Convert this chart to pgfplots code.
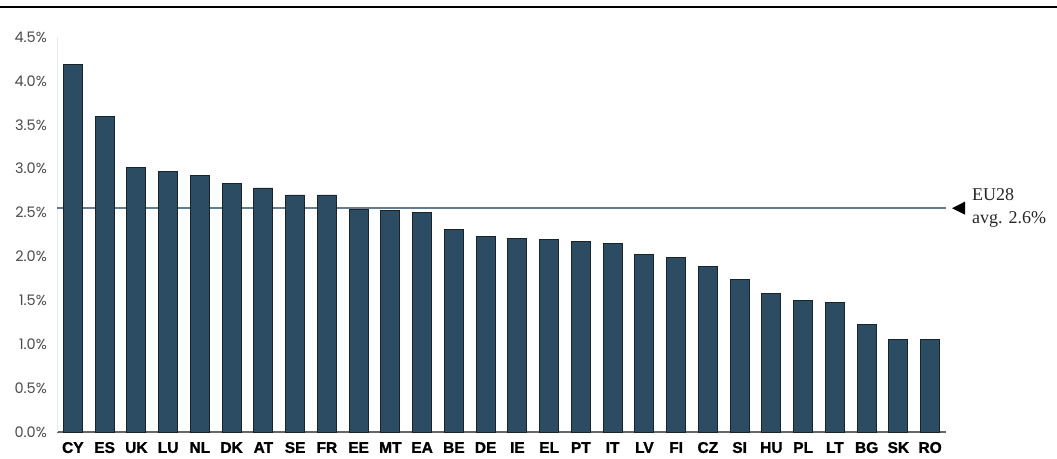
\documentclass[border=0pt]{standalone}
\usepackage{fontspec}
\setmainfont{Liberation Serif}
\newfontfamily\poppins{Poppins}
\newfontfamily\lsansblack[FakeBold=1.2]{Liberation Sans Bold}
\usepackage{pgfplots}
\pgfplotsset{compat=1.18}
\definecolor{barfill}{RGB}{44,76,99}
\definecolor{baredge}{RGB}{25,35,40}
\definecolor{avgline}{RGB}{96,125,146}
\definecolor{ylab}{RGB}{75,75,75}
\begin{document}
\begin{tikzpicture}[x=1pt,y=1pt]
\useasboundingbox (0,0) rectangle (1057,458);
\draw[line width=2.6pt,black] (0,451) -- (1057,451);
\begin{axis}[
  at={(57pt,26pt)}, anchor=south west,
  width=889pt, height=395pt, scale only axis,
  xmin=-0.5, xmax=27.5, ymin=0, ymax=4.5,
  clip=false,
  axis x line*=bottom, axis y line*=left,
  x axis line style={draw=black!60, line width=1.3pt},
  y axis line style={draw=black!8, line width=0.6pt},
  major tick length=0pt,
  xtick={0,...,27},
  xticklabels={CY,ES,UK,LU,NL,DK,AT,SE,FR,EE,MT,EA,BE,DE,IE,EL,PT,IT,LV,FI,CZ,SI,HU,PL,LT,BG,SK,RO},
  xticklabel style={font=\lsansblack\fontsize{15.5}{15.5}\selectfont, inner sep=0pt, anchor=north, text height=11.2pt, text depth=0pt, yshift=-9.5pt},
  ytick={0,0.5,...,4.5},
  yticklabels={0.0\%,0.5\%,1.0\%,1.5\%,2.0\%,2.5\%,3.0\%,3.5\%,4.0\%,4.5\%},
  yticklabel style={font=\poppins\fontsize{14.5}{14.5}\selectfont, text=ylab, inner sep=0pt, anchor=east, xshift=-10pt},
]
\addplot[avgline, line width=2pt, sharp plot, no marks] coordinates {(-0.5,2.55) (27.5,2.55)};
\addplot[ybar, bar width=19pt, fill=barfill, draw=baredge, line width=0.9pt] coordinates {
(0,4.19) (1,3.59) (2,3.01) (3,2.97) (4,2.92) (5,2.83) (6,2.78) (7,2.70) (8,2.70)
(9,2.54) (10,2.52) (11,2.50) (12,2.31) (13,2.23) (14,2.20) (15,2.19) (16,2.17)
(17,2.15) (18,2.02) (19,1.99) (20,1.89) (21,1.74) (22,1.58) (23,1.50) (24,1.48)
(25,1.23) (26,1.05) (27,1.05)};
\fill[black] (axis cs:27.69,2.55) -- (axis cs:28.1,2.625) -- (axis cs:28.1,2.475) -- cycle;
\node[anchor=west, inner sep=0pt, font=\fontsize{18}{23}\selectfont, align=left, text=black!85] at (axis cs:28.32,2.55) {EU28\\avg. 2.6\%};
\end{axis}
\end{tikzpicture}
\end{document}
